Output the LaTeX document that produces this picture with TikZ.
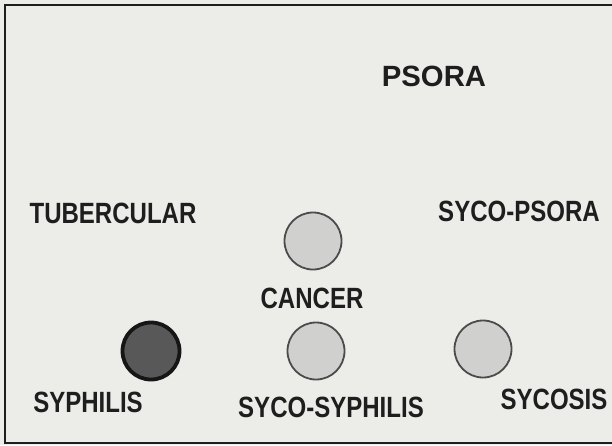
\documentclass[tikz,border=0pt]{standalone}
\usepackage{fontspec}
\setmainfont{Liberation Sans}
\newfontfamily\narrowfont{Liberation Sans}[FakeStretch=0.82]
\usepackage{tikz}
\usetikzlibrary{positioning}
\usepackage{xcolor}
\definecolor{paper}{RGB}{236,236,233}
\definecolor{ink}{RGB}{30,30,30}
\definecolor{rimLt}{RGB}{75,75,75}
\definecolor{fillLt}{RGB}{208,208,206}
\definecolor{rimDk}{RGB}{22,22,22}
\definecolor{fillDk}{RGB}{88,88,88}
\tikzset{
  miasm/.style={inner sep=0pt,text=ink,
    font=\narrowfont\bfseries\fontsize{29.3}{32}\selectfont},
}

\begin{document}
\begin{tikzpicture}[x=1pt,y=-1pt,
  head/.style={miasm,font=\bfseries\fontsize{29.3}{32}\selectfont},
  dot/.style={circle,minimum size=57pt,inner sep=0pt,draw=rimLt,
              line width=1.8pt,fill=fillLt},
  dkdot/.style={dot,draw=rimDk,line width=3.8pt,fill=fillDk}]
  % paper and frame
  \fill[paper] (0,0) rectangle (612,445);
  \useasboundingbox (0,0) rectangle (612,445);
  \draw[ink,line width=2.8pt] (620,5) -- (5,5) -- (5,443) -- (620,443);
  % top and middle row : labels
  \node[head]  (psora)  at (434,76)  {PSORA};
  \node[miasm] (tub)    at (113,213) {TUBERCULAR};
  \node[miasm] (sycps)  at (519,211) {SYCO-PSORA};
  \node[dot]   (cdot)   at (313,241) {};
  \node[miasm] (cancer) at (312,298) {CANCER};
  % bottom row : spots and labels
  \node[dkdot] (sdot)   at (151,351) {};
  \node[dot]   (ssdot)  at (316,351) {};
  \node[dot]   (ydot)   at (483,349) {};
  \node[miasm] (syph)   at (88,402)  {SYPHILIS};
  \node[miasm] (sycsyp) at (331,407) {SYCO-SYPHILIS};
  \node[miasm] (sycos)  at (554,399) {SYCOSIS};
\end{tikzpicture}
\end{document}
